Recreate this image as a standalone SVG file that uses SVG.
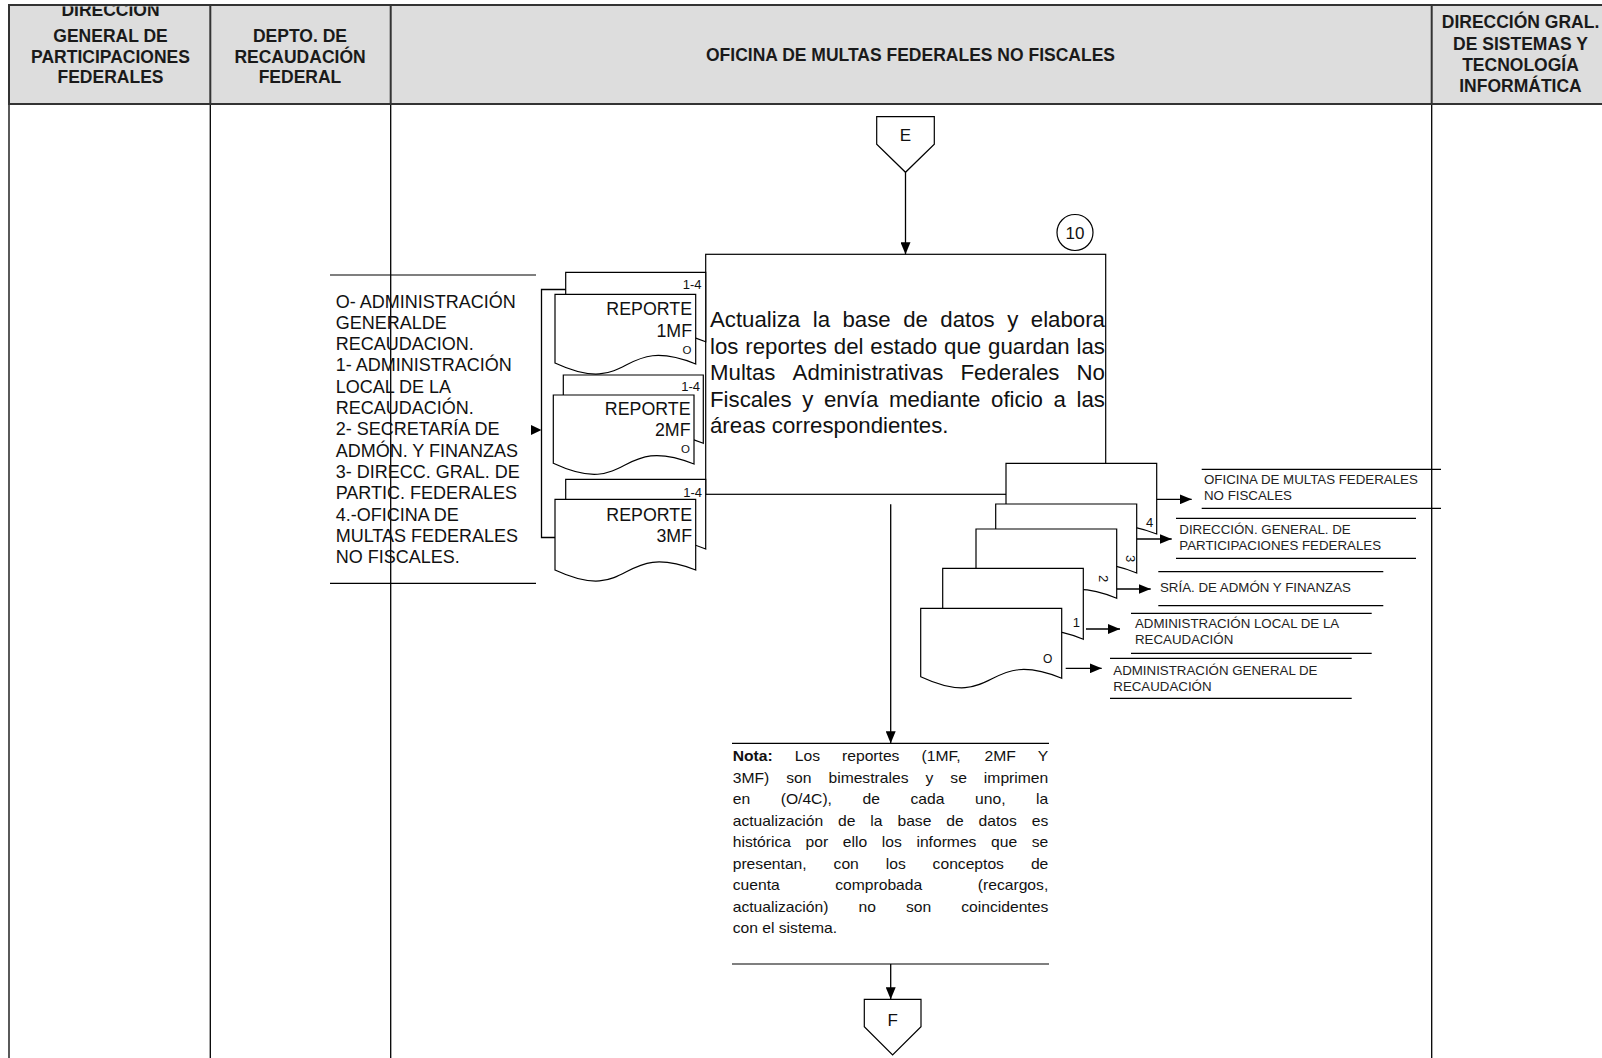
<svg xmlns="http://www.w3.org/2000/svg" width="1602" height="1058" viewBox="0 0 1602 1058">
<defs>
<style>
.ln{stroke:#000;stroke-width:1.3;fill:none}
.shape{stroke:#000;stroke-width:1.2;fill:#fff}
.hdr{font-family:"Liberation Sans",Arial,Helvetica,sans-serif;font-weight:bold;font-size:17.5px;fill:#1a1a1a;text-anchor:middle}
.txt{font-family:"Liberation Sans",Arial,Helvetica,sans-serif;fill:#111}
.list{font-size:18px}
.box{font-size:22px}
.rep{font-size:17.8px;text-anchor:end}
.small{font-size:13px;text-anchor:end}
.lbl{font-size:13.3px;fill:#222}
.nota{font-size:14.5px}
.conn{stroke:#000;stroke-width:1.3;fill:none}
.rule{stroke:#000;stroke-width:1.2}
</style>
<marker id="ah" markerUnits="userSpaceOnUse" markerWidth="12" markerHeight="10" refX="12" refY="5" orient="auto"><path d="M0,0 L12,5 L0,10 Z" fill="#000"/></marker>
<clipPath id="clipTop"><rect x="0" y="6.5" width="1602" height="100"/></clipPath>
</defs>
<rect width="1602" height="1058" fill="#fff"/>

<g id="lanes">
<line class="ln" x1="9" y1="104" x2="9" y2="1058"/>
<line class="ln" x1="210.3" y1="104" x2="210.3" y2="1058"/>
<line class="ln" x1="390.7" y1="104" x2="390.7" y2="1058"/>
<line class="ln" x1="1431.7" y1="104" x2="1431.7" y2="1058"/>
</g>

<g id="header">
<rect x="9" y="5" width="1600" height="99" fill="#dddddd" stroke="#333" stroke-width="2"/>
<line x1="210.3" y1="5" x2="210.3" y2="104" stroke="#333" stroke-width="2"/>
<line x1="390.7" y1="5" x2="390.7" y2="104" stroke="#333" stroke-width="2"/>
<line x1="1431.7" y1="5" x2="1431.7" y2="104" stroke="#333" stroke-width="2"/>
<text class="hdr" x="110.5" y="16" clip-path="url(#clipTop)">DIRECCIÓN</text>
<text class="hdr" x="110.5" y="41.8">GENERAL DE</text>
<text class="hdr" x="110.5" y="62.6">PARTICIPACIONES</text>
<text class="hdr" x="110.5" y="83.4">FEDERALES</text>
<text class="hdr" x="300" y="41.8">DEPTO. DE</text>
<text class="hdr" x="300" y="62.6">RECAUDACIÓN</text>
<text class="hdr" x="300" y="83.4">FEDERAL</text>
<text class="hdr" x="910.5" y="60.8">OFICINA DE MULTAS FEDERALES NO FISCALES</text>
<text class="hdr" x="1520.5" y="28.3">DIRECCIÓN GRAL.</text>
<text class="hdr" x="1520.5" y="49.5">DE SISTEMAS Y</text>
<text class="hdr" x="1520.5" y="70.7">TECNOLOGÍA</text>
<text class="hdr" x="1520.5" y="91.7">INFORMÁTICA</text>
</g>

<g id="node-E">
<polygon class="shape" points="876.7,116.7 934.3,116.7 934.3,144.3 905.5,172.3 876.7,144.3"/>
<text class="txt" x="905.5" y="141" font-size="17" text-anchor="middle" fill="#222">E</text>
</g>

<g id="node-10">
<rect class="shape" x="705.7" y="254.3" width="400" height="240"/>
<circle class="shape" cx="1075" cy="232.5" r="18"/>
<text class="txt" x="1075" y="239" font-size="17" text-anchor="middle">10</text>
<text class="txt box" transform="translate(710,327) scale(1.0113,1)"><tspan x="0">Actualiza</tspan><tspan x="101.58">la</tspan><tspan x="131">base</tspan><tspan x="191.01">de</tspan><tspan x="227.78">datos</tspan><tspan x="293.9">y</tspan><tspan x="317.2">elabora</tspan></text>
<text class="txt box" transform="translate(710,353.6) scale(1.0113,1)"><tspan x="0">los</tspan><tspan x="34.92">reportes</tspan><tspan x="122.43">del</tspan><tspan x="158.58">estado</tspan><tspan x="231.43">que</tspan><tspan x="274.94">guardan</tspan><tspan x="362.47">las</tspan></text>
<text class="txt box" transform="translate(710,380.2) scale(1.0113,1)"><tspan x="0">Multas</tspan><tspan x="81.68">Administrativas</tspan><tspan x="247.73">Federales</tspan><tspan x="362.44">No</tspan></text>
<text class="txt box" transform="translate(710,406.8) scale(1.0113,1)"><tspan x="0">Fiscales</tspan><tspan x="91.17">y</tspan><tspan x="112.64">envía</tspan><tspan x="176.94">mediante</tspan><tspan x="277.92">oficio</tspan><tspan x="339.75">a</tspan><tspan x="362.46">las</tspan></text>
<text class="txt box" transform="translate(710,433.4) scale(1.0113,1)">áreas correspondientes.</text>
</g>

<g id="node-list">
<line class="rule" x1="330" y1="275" x2="536" y2="275"/>
<line class="rule" x1="330" y1="583.3" x2="536" y2="583.3"/>
<text class="txt list">
<tspan x="335.7" y="307.5">O- ADMINISTRACIÓN</tspan>
<tspan x="335.7" y="328.8">GENERALDE</tspan>
<tspan x="335.7" y="350.1">RECAUDACION.</tspan>
<tspan x="335.7" y="371.4">1- ADMINISTRACIÓN</tspan>
<tspan x="335.7" y="392.7">LOCAL DE LA</tspan>
<tspan x="335.7" y="414">RECAUDACIÓN.</tspan>
<tspan x="335.7" y="435.3">2- SECRETARÍA DE</tspan>
<tspan x="335.7" y="456.6">ADMÓN. Y FINANZAS</tspan>
<tspan x="335.7" y="477.9">3- DIRECC. GRAL. DE</tspan>
<tspan x="335.7" y="499.2">PARTIC. FEDERALES</tspan>
<tspan x="335.7" y="520.5">4.-OFICINA DE</tspan>
<tspan x="335.7" y="541.8">MULTAS FEDERALES</tspan>
<tspan x="335.7" y="563.1">NO FISCALES.</tspan>
</text>
</g>

<g id="node-reports">
<path class="shape" d="M565.7,272.3 H705.7 V341.7 C628.7,310.1 642.7,376.1 565.7,340.1 Z"/>
<path class="shape" d="M555,294.3 H695.7 V364 C618.3,333 632.4,399 555,363 Z"/>
<text class="txt small" x="701.5" y="289">1-4</text>
<text class="txt rep" x="692" y="315">REPORTE</text>
<text class="txt rep" x="692" y="336.7">1MF</text>
<text class="txt" x="691.5" y="354" font-size="11.5" text-anchor="end">O</text>

<path class="shape" d="M563.3,375 H703.3 V443.3 C626.3,412 640.3,478 563.3,442 Z"/>
<path class="shape" d="M553.3,395 H694 V464 C616.6,433.3 630.7,499.3 553.3,463.3 Z"/>
<text class="txt small" x="700" y="390.7">1-4</text>
<text class="txt rep" x="690.5" y="415">REPORTE</text>
<text class="txt rep" x="690.5" y="436">2MF</text>
<text class="txt" x="690" y="453.3" font-size="11.5" text-anchor="end">O</text>

<path class="shape" d="M565.7,479.3 H705.7 V549 C628.7,517.4 642.7,583.4 565.7,547.4 Z"/>
<path class="shape" d="M555,499.3 H695.7 V570 C618.3,540 632.4,606 555,570 Z"/>
<text class="txt small" x="702" y="496.5">1-4</text>
<text class="txt rep" x="692" y="520.7">REPORTE</text>
<text class="txt rep" x="692" y="541.7">3MF</text>
</g>

<g id="node-copies">
<path class="shape" d="M1006,463.3 H1156.7 V534 C1073.8,502.4 1088.9,568.4 1006,532.4 Z"/>
<path class="shape" d="M995.7,504 H1136.7 V573 C1059.2,541.4 1073.3,607.4 995.7,571.4 Z"/>
<path class="shape" d="M976,529 H1116.7 V598.3 C1039.3,566.7 1053.4,632.7 976,596.7 Z"/>
<path class="shape" d="M942.7,568.3 H1083.3 V639.3 C1006,607.7 1020,673.7 942.7,637.7 Z"/>
<path class="shape" d="M920.7,608.3 H1061.7 V678.3 C984.2,646.7 998.3,712.7 920.7,676.7 Z"/>
<text class="txt" x="1153.3" y="527.3" font-size="13" text-anchor="end">4</text>
<text class="txt" transform="translate(1131,558.7) rotate(90)" font-size="13" text-anchor="middle" dy="4.6">3</text>
<text class="txt" transform="translate(1103.7,578.7) rotate(90)" font-size="13" text-anchor="middle" dy="4.6">2</text>
<text class="txt" x="1080" y="626.7" font-size="13" text-anchor="end">1</text>
<text class="txt" x="1047.7" y="662.7" font-size="12" text-anchor="middle">O</text>
</g>

<g id="dest-1">
<line class="rule" x1="1201.7" y1="469.3" x2="1441" y2="469.3"/>
<line class="rule" x1="1201.7" y1="508.3" x2="1441" y2="508.3"/>
<text class="txt lbl" x="1204" y="483.5">OFICINA DE MULTAS FEDERALES</text>
<text class="txt lbl" x="1204" y="499.5">NO FISCALES</text>
</g>
<g id="dest-2">
<line class="rule" x1="1176" y1="518.3" x2="1416" y2="518.3"/>
<line class="rule" x1="1176" y1="558.3" x2="1416" y2="558.3"/>
<text class="txt lbl" x="1179.3" y="534">DIRECCIÓN. GENERAL. DE</text>
<text class="txt lbl" x="1179.3" y="550">PARTICIPACIONES FEDERALES</text>
</g>
<g id="dest-3">
<line class="rule" x1="1158.3" y1="571.7" x2="1383.3" y2="571.7"/>
<line class="rule" x1="1158.3" y1="605.7" x2="1383.3" y2="605.7"/>
<text class="txt lbl" x="1160" y="591.7">SRÍA. DE ADMÓN Y FINANZAS</text>
</g>
<g id="dest-4">
<line class="rule" x1="1131" y1="613.3" x2="1371.7" y2="613.3"/>
<line class="rule" x1="1131" y1="653.3" x2="1371.7" y2="653.3"/>
<text class="txt lbl" x="1135" y="628.3">ADMINISTRACIÓN LOCAL DE LA</text>
<text class="txt lbl" x="1135" y="644">RECAUDACIÓN</text>
</g>
<g id="dest-5">
<line class="rule" x1="1110" y1="658.3" x2="1351.7" y2="658.3"/>
<line class="rule" x1="1110" y1="698.3" x2="1351.7" y2="698.3"/>
<text class="txt lbl" x="1113.3" y="675">ADMINISTRACIÓN GENERAL DE</text>
<text class="txt lbl" x="1113.3" y="690.7">RECAUDACIÓN</text>
</g>

<g id="node-nota">
<line class="rule" x1="732" y1="743.3" x2="1049" y2="743.3"/>
<line class="rule" x1="732" y1="964" x2="1049" y2="964"/>
<text class="txt nota" transform="translate(732.7,761) scale(1.08,1)"><tspan x="0" font-weight="bold">Nota:</tspan><tspan x="57.46">Los</tspan><tspan x="101.25">reportes</tspan><tspan x="174.85">(1MF,</tspan><tspan x="233.13">2MF</tspan><tspan x="282.55">Y</tspan></text>
<text class="txt nota" transform="translate(732.7,782.5) scale(1.08,1)"><tspan x="0">3MF)</tspan><tspan x="49.56">son</tspan><tspan x="88.68">bimestrales</tspan><tspan x="178.54">y</tspan><tspan x="201.53">se</tspan><tspan x="232.58">imprimen</tspan></text>
<text class="txt nota" transform="translate(732.7,804) scale(1.08,1)"><tspan x="0">en</tspan><tspan x="44.43">(O/4C),</tspan><tspan x="120.26">de</tspan><tspan x="164.69">cada</tspan><tspan x="224.43">uno,</tspan><tspan x="280.94">la</tspan></text>
<text class="txt nota" transform="translate(732.7,825.5) scale(1.08,1)"><tspan x="0">actualización</tspan><tspan x="97.58">de</tspan><tspan x="127.48">la</tspan><tspan x="152.54">base</tspan><tspan x="197.75">de</tspan><tspan x="227.65">datos</tspan><tspan x="276.89">es</tspan></text>
<text class="txt nota" transform="translate(732.7,847) scale(1.08,1)"><tspan x="0">histórica</tspan><tspan x="67.5">por</tspan><tspan x="101.97">ello</tspan><tspan x="138.06">los</tspan><tspan x="170.1">informes</tspan><tspan x="239.21">que</tspan><tspan x="276.92">se</tspan></text>
<text class="txt nota" transform="translate(732.7,868.5) scale(1.08,1)"><tspan x="0">presentan,</tspan><tspan x="93.41">con</tspan><tspan x="141.68">los</tspan><tspan x="185.1">conceptos</tspan><tspan x="276.09">de</tspan></text>
<text class="txt nota" transform="translate(732.7,890) scale(1.08,1)"><tspan x="0">cuenta</tspan><tspan x="94.94">comprobada</tspan><tspan x="226.95">(recargos,</tspan></text>
<text class="txt nota" transform="translate(732.7,911.5) scale(1.08,1)"><tspan x="0">actualización)</tspan><tspan x="116.47">no</tspan><tspan x="160.43">son</tspan><tspan x="211.63">coincidentes</tspan></text>
<text class="txt nota" transform="translate(732.7,933) scale(1.08,1)">con el sistema.</text>
</g>

<g id="node-F">
<polygon class="shape" points="864.3,999.3 921,999.3 921,1026.7 892.6,1055 864.3,1026.7"/>
<text class="txt" x="892.6" y="1026" font-size="17" text-anchor="middle" fill="#222">F</text>
</g>

<g id="connectors">
<line class="conn" x1="905.5" y1="172.3" x2="905.5" y2="254.3" marker-end="url(#ah)"/>
<line class="conn" x1="890.7" y1="504.3" x2="890.7" y2="743.3" marker-end="url(#ah)"/>
<line class="conn" x1="890.7" y1="964" x2="890.7" y2="999.3" marker-end="url(#ah)"/>
<polyline class="conn" points="565.7,289.5 541.5,289.5 541.5,537.5 555,537.5"/>
<polygon points="531,425 541.5,430 531,435" fill="#000"/>
<line class="conn" x1="1156.7" y1="499.3" x2="1191.7" y2="499.3" marker-end="url(#ah)"/>
<line class="conn" x1="1136.7" y1="539" x2="1171.7" y2="539" marker-end="url(#ah)"/>
<line class="conn" x1="1116.7" y1="589" x2="1150.7" y2="589" marker-end="url(#ah)"/>
<line class="conn" x1="1086" y1="629" x2="1120" y2="629" marker-end="url(#ah)"/>
<line class="conn" x1="1065.7" y1="668.3" x2="1101.7" y2="668.3" marker-end="url(#ah)"/>
</g>
</svg>
